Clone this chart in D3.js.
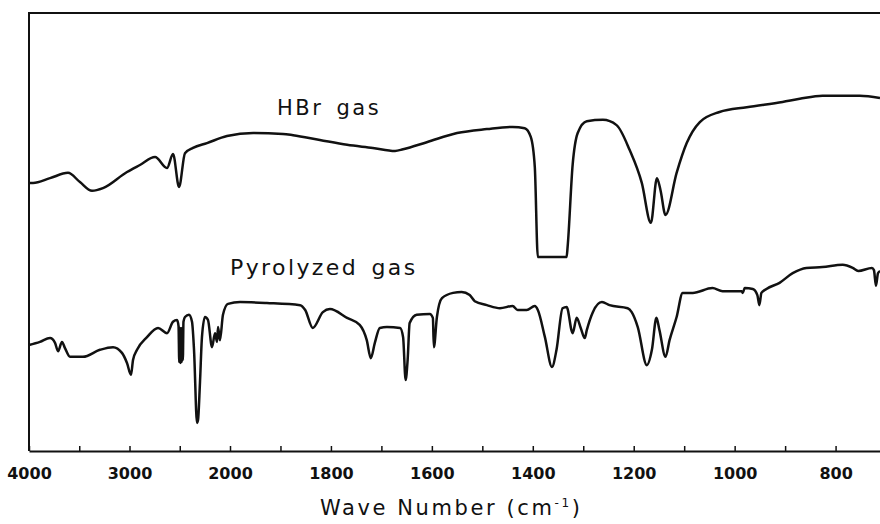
<!DOCTYPE html>
<html lang="en">
  <head>
    <meta charset="UTF-8" />
    <title>IR spectra</title>
    <script src="https://cdn.jsdelivr.net/npm/d3@7/dist/d3.min.js"></script>
    <style>
      body { margin: 0; background: #fff; }
      text { font-family: "DejaVu Sans", sans-serif; fill: #111; }
    </style>
  </head>
  <body></body>
  <script>
    // HBr gas trace: wave number (cm-1) and relative transmittance
    const wnHBr = [4000, 3960, 3791, 3612, 3493, 3373, 3264, 3025, 2896, 2746,
      2627, 2567, 2507, 2448, 2368, 2229, 2030, 1954, 1895, 1875, 1822, 1768,
      1717, 1673, 1657, 1610, 1550, 1491, 1440, 1416, 1404, 1396, 1390, 1333,
      1331, 1321, 1311, 1293, 1261, 1234, 1208, 1184, 1166, 1154, 1147, 1137,
      1115, 1095, 1069, 1030, 976, 905, 871, 826, 752, 712];
    const tHBr = [61.2, 61.2, 62.3, 63.5, 61.4, 59.4, 60.0, 63.7, 65.3, 67.1,
      64.6, 67.8, 60.3, 68.0, 69.2, 70.3, 71.9, 72.6, 72.4, 72.1, 71.0, 69.9,
      69.2, 68.5, 68.9, 70.5, 72.6, 73.5, 74.0, 73.7, 71.7, 64.8, 44.3, 44.3,
      46.6, 65.4, 72.6, 75.3, 75.6, 74.4, 68.7, 61.2, 52.1, 62.3, 59.6, 53.9,
      63.5, 70.3, 75.1, 77.4, 78.5, 79.7, 80.4, 81.1, 81.1, 80.6];

    // Pyrolyzed gas trace
    const wnPyro = [4000, 3891, 3791, 3741, 3711, 3672, 3642, 3592, 3463, 3294,
      3164, 3075, 3025, 2985, 2965, 2925, 2826, 2716, 2627, 2567, 2527, 2512,
      2505, 2499, 2493, 2487, 2481, 2475, 2469, 2463, 2448, 2408, 2378, 2358,
      2328, 2318, 2299, 2279, 2249, 2219, 2179, 2149, 2129, 2119, 2100, 2070,
      2020, 1980, 1927, 1861, 1851, 1836, 1816, 1802, 1768, 1743, 1729, 1721,
      1713, 1703, 1689, 1663, 1657, 1652, 1648, 1644, 1630, 1604, 1598, 1596,
      1590, 1580, 1558, 1541, 1525, 1515, 1491, 1465, 1440, 1430, 1412, 1396,
      1390, 1376, 1362, 1353, 1341, 1333, 1321, 1313, 1305, 1297, 1293, 1281,
      1263, 1248, 1212, 1204, 1192, 1174, 1164, 1155, 1149, 1137, 1129, 1115,
      1103, 1083, 1044, 1024, 986, 984, 980, 964, 955, 951, 947, 937, 911, 885,
      858, 826, 786, 766, 755, 728, 724, 720, 716, 712];
    const tPyro = [24.2, 24.9, 25.8, 24.7, 22.8, 24.9, 23.5, 21.5, 21.5, 23.1,
      23.7, 22.4, 20.1, 17.4, 20.8, 23.1, 26.0, 28.1, 26.9, 29.5, 29.9, 28.5,
      20.3, 28.1, 20.1, 28.1, 20.3, 28.1, 20.8, 29.5, 30.6, 31.1, 29.5, 23.1,
      6.4, 7.1, 15.5, 26.0, 30.6, 29.9, 23.7, 26.9, 24.9, 28.3, 25.3, 31.1,
      33.6, 34.0, 33.8, 33.3, 32.2, 28.1, 31.7, 32.4, 30.4, 28.8, 25.3, 21.2,
      24.7, 28.1, 28.3, 28.1, 26.0, 16.2, 20.8, 29.2, 31.1, 31.3, 30.4, 23.7,
      30.6, 34.9, 36.1, 36.3, 35.6, 34.2, 33.3, 32.6, 33.1, 32.2, 32.2, 33.1,
      32.2, 26.0, 19.2, 23.1, 32.6, 32.9, 26.9, 30.4, 28.1, 25.8, 27.6, 31.7,
      34.0, 33.3, 32.6, 31.7, 28.3, 19.6, 23.1, 30.4, 27.6, 21.5, 25.3, 30.6,
      36.1, 36.1, 37.2, 36.5, 36.5, 36.1, 37.2, 37.0, 35.6, 33.3, 36.1, 37.0,
      38.4, 40.6, 41.8, 42.0, 42.5, 41.8, 41.1, 41.8, 41.3, 37.7, 40.6, 41.1];

    const tickValues = [4000, 3500, 3000, 2500, 2000, 1900, 1800, 1700, 1600,
      1500, 1400, 1300, 1200, 1100, 1000, 900, 800];
    const tickLabels = [4000, 3000, 2000, 1800, 1600, 1400, 1200, 1000, 800];

    const width = 880;
    const height = 524;
    const plotLeft = 29, plotTop = 13, plotBottom = 451, plotRight = 881;

    const svg = d3
      .select("body")
      .append("svg")
      .attr("width", width)
      .attr("height", height);

    // the wave number scale changes at 2000 cm-1
    const x = d3
      .scaleLinear()
      .domain([4000, 2000, 710])
      .range([plotLeft, 230, plotRight]);
    const y = d3.scaleLinear().domain([0, 100]).range([plotBottom, plotTop]);

    // frame: top and left lines
    svg
      .append("path")
      .attr("d", `M${plotRight},${plotTop}H${plotLeft}V${plotBottom}`)
      .attr("fill", "none")
      .attr("stroke", "#111")
      .attr("stroke-width", 2);

    const xAxis = d3
      .axisBottom(x)
      .tickValues(tickValues)
      .tickSize(-5)
      .tickSizeOuter(0)
      .tickPadding(17)
      .tickFormat((d) => (tickLabels.includes(d) ? d : ""));

    const gx = svg
      .append("g")
      .attr("transform", `translate(0,${plotBottom})`)
      .call(xAxis);
    gx.select(".domain").attr("stroke", "#111").attr("stroke-width", 2);
    gx.selectAll(".tick line").attr("stroke", "#111").attr("stroke-width", 1.5);
    gx.selectAll(".tick text")
      .attr("font-family", "DejaVu Sans")
      .attr("font-size", 16)
      .attr("font-weight", "bold")
      .attr("fill", "#111");

    const line = d3
      .line()
      .x((d) => x(d[0]))
      .y((d) => y(d[1]))
      .curve(d3.curveMonotoneX);

    const series = [
      { wn: wnHBr, t: tHBr },
      { wn: wnPyro, t: tPyro },
    ];
    series.forEach((s) => {
      svg
        .append("path")
        .datum(d3.zip(s.wn, s.t))
        .attr("fill", "none")
        .attr("stroke", "#111")
        .attr("stroke-width", 2.5)
        .attr("stroke-linejoin", "round")
        .attr("d", line);
    });

    // trace names
    svg
      .append("text")
      .attr("x", 277)
      .attr("y", 115)
      .attr("font-size", 21)
      .attr("letter-spacing", 2.5)
      .attr("word-spacing", 4)
      .text("HBr gas");
    svg
      .append("text")
      .attr("x", 230)
      .attr("y", 275)
      .attr("font-size", 22)
      .attr("letter-spacing", 2.4)
      .attr("word-spacing", 4)
      .text("Pyrolyzed gas");

    // axis title
    const title = svg
      .append("text")
      .attr("x", 320)
      .attr("y", 515)
      .attr("font-size", 21)
      .attr("letter-spacing", 2.6);
    title.append("tspan").text("Wave Number  (cm");
    title
      .append("tspan")
      .attr("font-size", 12)
      .attr("dy", -8)
      .text("-1");
    title.append("tspan").attr("dy", 8).text(")");
  </script>
</html>
